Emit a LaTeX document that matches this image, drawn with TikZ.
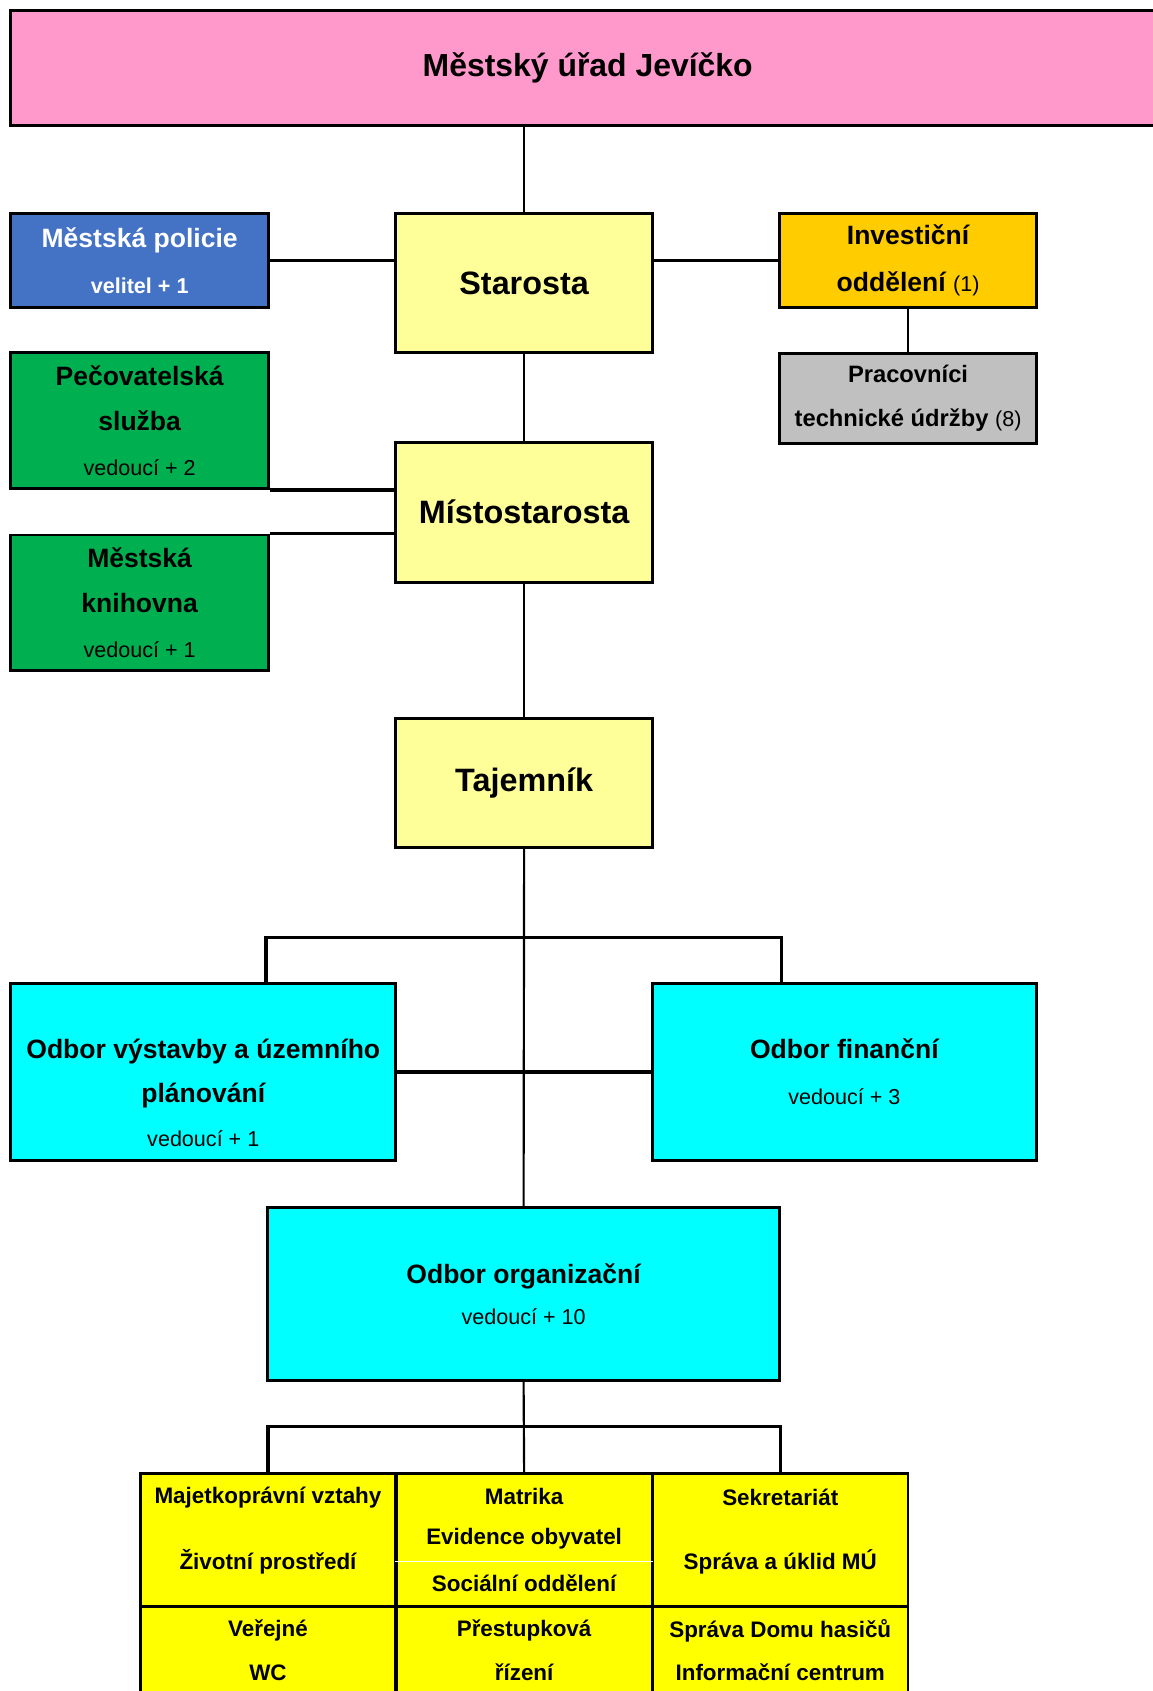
\documentclass[tikz,border=0pt]{standalone}
\usepackage{fontspec}
\setmainfont{Liberation Sans}
\usepackage{xcolor}

\definecolor{ruzova}{HTML}{FF99CC}
\definecolor{modra}{HTML}{4472C4}
\definecolor{zlata}{HTML}{FFCC00}
\definecolor{seda}{HTML}{C0C0C0}
\definecolor{zelena}{HTML}{00B050}
\definecolor{svetlezluta}{HTML}{FFFF99}
\definecolor{tyrkys}{HTML}{00FFFF}
\definecolor{zluta}{HTML}{FFFF00}

\begin{document}
\begin{tikzpicture}[x=0.5pt,y=-0.5pt,
	box/.style={draw=black,line width=1.3pt,align=center,inner sep=0pt},
	vedeni/.style={box,fill=svetlezluta,minimum width=119pt,font=\fontsize{15}{18}\selectfont\bfseries},
	odbor/.style={box,fill=tyrkys,font=\fontsize{12.3}{20.3}\selectfont\bfseries},
	bunka/.style={box,fill=zluta,minimum width=118.5pt},
	popis/.style={inner sep=0pt,font=\fontsize{10.4}{12}\selectfont\bfseries},
	spoj/.style={line width=1pt},
	vetev/.style={line width=1.5pt}]
					%\draw[help lines] (0,0) grid (1069,1568);
					\useasboundingbox (0,0) rectangle (1069,1568);
					
					\node[box,fill=ruzova,minimum width=535pt,minimum height=53pt,font=\fontsize{14.8}{17}\selectfont\bfseries] (urad) at (545,63) {Městský úřad Jevíčko};
					
					\node[vedeni,minimum height=64.5pt] (starosta) at (486,262.5) {Starosta};
					\node[vedeni,minimum height=65pt] (mistostarosta) at (486,475) {Místostarosta};
					\node[vedeni,minimum height=60pt] (tajemnik) at (486,726) {Tajemník};
					
					\node[box,fill=modra,text=white,minimum width=119.5pt,minimum height=43.5pt,font=\fontsize{12.3}{21.5}\selectfont\bfseries] (policie) at (129.5,241.5) {Městská policie\\{\fontsize{10}{21.5}\selectfont velitel + 1}};
					\node[box,fill=zlata,minimum width=119pt,minimum height=43.5pt,font=\fontsize{12.3}{22}\selectfont\bfseries] (investice) at (842,241.5) {Investiční\\oddělení {\mdseries\fontsize{10}{22}\selectfont (1)}};
					\node[box,fill=seda,minimum width=119pt,minimum height=41.5pt,font=\fontsize{11}{20.5}\selectfont\bfseries] (pracovnici) at (842,369.5) {Pracovníci\\technické údržby {\mdseries\fontsize{10}{20.5}\selectfont (8)}};
					\node[box,fill=zelena,minimum width=119.5pt,minimum height=63pt,font=\fontsize{12.3}{20.8}\selectfont\bfseries] (pecovatelska) at (129.5,390) {Pečovatelská\\služba\\{\mdseries\fontsize{10}{20.8}\selectfont vedoucí + 2}};
					\node[box,fill=zelena,minimum width=119.5pt,minimum height=63pt,font=\fontsize{12.3}{20.8}\selectfont\bfseries] (knihovna) at (129.5,559) {Městská\\knihovna\\{\mdseries\fontsize{10}{20.8}\selectfont vedoucí + 1}};
					
					\node[odbor,minimum width=178.5pt,minimum height=82pt] (vystavba) at (188.5,994) {\strut\\[-6pt]Odbor výstavby a územního\\plánování\\{\mdseries\fontsize{10}{20.3}\selectfont vedoucí + 1}};
					\node[odbor,minimum width=178pt,minimum height=82pt,font=\fontsize{12.3}{21.5}\selectfont\bfseries] (financni) at (783,994) {Odbor finanční\\{\mdseries\fontsize{10}{21.5}\selectfont vedoucí + 3}};
					\node[odbor,minimum width=237.5pt,minimum height=80pt,font=\fontsize{12.3}{19}\selectfont\bfseries] (organizacni) at (485.5,1200) {Odbor organizační\\{\mdseries\fontsize{10}{19}\selectfont vedoucí + 10}};
					
					\foreach \s/\x in {1/248.5,2/486,3/723.5}{
						\node[bunka,minimum height=62pt] (a\s) at (\x,1428) {};
						\node[bunka,minimum height=61pt] (b\s) at (\x,1551) {};
					}
					\coordinate (delic) at (486,1448);
					\draw[white,line width=0.6pt] (a2.west |- delic) -- (a2.east |- delic);
					
					\node[popis] (majetek) at (248.5,1389) {Majetkoprávní vztahy};
					\node[popis] (prostredi) at (248.5,1448) {Životní prostředí};
					\node[popis] (matrika) at (486,1388) {Matrika};
					\node[popis] (evidence) at (486,1427) {Evidence obyvatel};
					\node[popis] (socialni) at (486,1468) {Sociální oddělení};
					\node[popis] (sekretariat) at (723.5,1388) {Sekretariát};
					\node[popis] (uklid) at (723.5,1448) {Správa a úklid MÚ};
					\node[popis] (verejne) at (248.5,1512) {Veřejné};
					\node[popis] (wc) at (248.5,1551) {WC};
					\node[popis] (prestupkova) at (486,1512) {Přestupková};
					\node[popis] (rizeni) at (486,1551) {řízení};
					\node[popis] (hasici) at (723.5,1512) {Správa Domu hasičů};
					\node[popis] (infocentrum) at (723.5,1551) {Informační centrum};
					
					\coordinate (rozvet) at (486,869);
					\coordinate (rozvet2) at (486,1323);
					
					\draw[spoj] (urad.south -| starosta) -- (starosta.north);
					\draw[vetev] (policie.east) -- (policie.east -| starosta.west);
					\draw[vetev] (starosta.east |- investice) -- (investice.west);
					\draw[spoj] (investice.south) -- (pracovnici.north);
					\draw[spoj] (starosta.south) -- (mistostarosta.north);
					\draw[vetev] (pecovatelska.south east) -- (pecovatelska.south east -| mistostarosta.west);
					\draw[vetev] (knihovna.north east) -- (knihovna.north east -| mistostarosta.west);
					\draw[spoj] (mistostarosta.south) -- (tajemnik.north);
					\draw[spoj] (tajemnik.south) -- (organizacni.north);
					\draw[vetev] (organizacni.west |- vystavba.north) |- (rozvet) -| (organizacni.east |- financni.north);
					\draw[vetev] (vystavba.east) -- (financni.west);
					\draw[spoj] (organizacni.south) -- (a2.north);
					\draw[vetev] (a1.north) |- (rozvet2) -| (a3.north);
				\end{tikzpicture}
\end{document}
